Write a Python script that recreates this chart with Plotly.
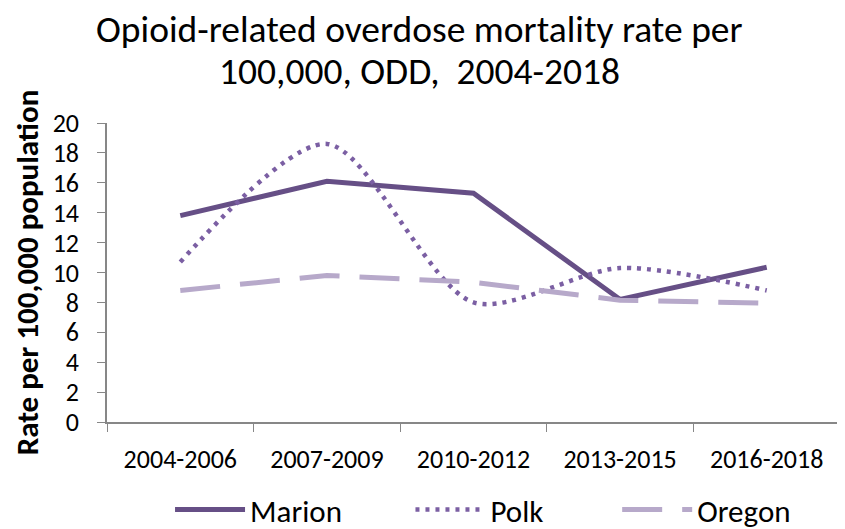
import plotly.graph_objects as go

periods = ["2004-2006", "2007-2009", "2010-2012", "2013-2015", "2016-2018"]
marion = [13.8, 16.1, 15.3, 8.2, 10.35]
polk = [10.7, 18.6, 8.0, 10.3, 8.8]
oregon = [8.8, 9.8, 9.35, 8.15, 7.95]
y_ticks = list(range(0, 21, 2))
title_lines = ["Opioid-related overdose mortality rate per", "100,000, ODD,  2004-2018"]

FONT = "Carlito, Lato, 'Liberation Sans', Arial, sans-serif"

fig = go.Figure()
fig.add_trace(go.Scatter(x=periods, y=marion, name="Marion", mode="lines", legend="legend",
                         line=dict(color="#664F86", width=5)))
fig.add_trace(go.Scatter(x=periods, y=polk, name="Polk", mode="lines", legend="legend2",
                         line=dict(color="#7B5FA3", width=4.5, dash="4px,6px", shape="spline", smoothing=0.8)))
fig.add_trace(go.Scatter(x=periods, y=oregon, name="Oregon", mode="lines", legend="legend3",
                         line=dict(color="#B7A9CA", width=5, dash="40px,20px")))

leg_common = dict(orientation="h", xanchor="left", y=-0.294, yanchor="middle",
                  font=dict(size=31, family=FONT), itemwidth=70, bgcolor="rgba(0,0,0,0)")

fig.update_layout(
    width=837, height=521,
    margin=dict(l=99, r=5, t=115, b=107, autoexpand=False),
    paper_bgcolor="white", plot_bgcolor="white",
    font=dict(family=FONT, color="#000000"),
    showlegend=True,
    legend=dict(x=0.086, **leg_common),
    legend2=dict(x=0.414, **leg_common),
    legend3=dict(x=0.696, **leg_common),
)
for txt, yy in zip(title_lines, [1.314, 1.175]):
    fig.add_annotation(text=txt, xref="paper", yref="paper", x=0.4257, y=yy,
                       xanchor="center", yanchor="middle", showarrow=False,
                       font=dict(size=37.5, family=FONT, color="#000000"))

fig.update_xaxes(range=[-0.5, 4.5], showline=True, linecolor="#878787", linewidth=1.5,
                 ticks="outside", ticklen=8, tickcolor="#878787", tickson="boundaries",
                 ticklabelstandoff=13,
                 tickfont=dict(size=26, family=FONT), showgrid=False, zeroline=False)
fig.update_yaxes(range=[0, 20], tickvals=y_ticks, showline=True, linecolor="#878787", linewidth=1.5,
                 ticks="outside", ticklen=8, tickcolor="#878787", ticklabelstandoff=13,
                 tickfont=dict(size=26, family=FONT), showgrid=False, zeroline=False,
                 title=dict(text="<b>Rate per 100,000 population</b>", font=dict(size=31, family=FONT), standoff=30))

fig.write_html("out.html")
